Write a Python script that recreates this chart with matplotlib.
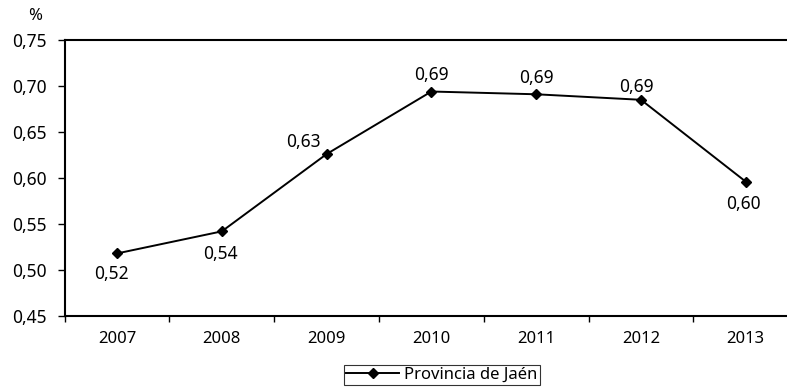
import matplotlib.pyplot as plt
from matplotlib.ticker import FixedLocator, FuncFormatter

years = ["2007", "2008", "2009", "2010", "2011", "2012", "2013"]
values = [0.518, 0.542, 0.626, 0.694, 0.691, 0.685, 0.596]
labels = ["0,52", "0,54", "0,63", "0,69", "0,69", "0,69", "0,60"]
series_name = "Provincia de Jaén"

plt.rcParams['font.family'] = ['Noto Sans', 'DejaVu Sans']
plt.rcParams['font.size'] = 12

fig = plt.figure(figsize=(7.87, 3.87), dpi=100)
ax = fig.add_axes([64.6 / 787, 71 / 387, 733.6 / 787, 276 / 387])

x = list(range(len(years)))
line, = ax.plot(x, values, color='black', lw=1.4, marker='D', markersize=5.5,
                label=series_name, clip_on=False)

# data labels: offsets in points (dx, dy)
offsets = [(-4, -15), (-1, -16), (-17, 9), (0, 12), (0, 12), (-3, 9), (-2, -16)]
for xi, v, t, (dx, dy) in zip(x, values, labels, offsets):
    ax.annotate(t, (xi, v), xytext=(dx, dy), textcoords='offset points',
                ha='center', va='center', fontsize=12.5)

ax.set_xlim(-0.5, 6.5)
ax.set_ylim(0.45, 0.75)
ax.set_yticks([0.45, 0.50, 0.55, 0.60, 0.65, 0.70, 0.75])
ax.yaxis.set_major_formatter(FuncFormatter(lambda v, p: f"{v:.2f}".replace('.', ',')))
ax.set_xticks(x)
ax.set_xticklabels(years)
ax.xaxis.set_minor_locator(FixedLocator([i - 0.5 for i in range(len(years) + 1)]))
ax.tick_params(axis='x', which='major', length=0, pad=11, labelsize=12)
ax.tick_params(axis='x', which='minor', length=4, width=1, direction='out')
ax.tick_params(axis='y', length=5, width=1, direction='out', pad=8, labelsize=12.5)

for s in ['left', 'top', 'bottom']:
    ax.spines[s].set_linewidth(1.5)
ax.spines['right'].set_visible(False)

fig.text(35 / 787, 1 - 16 / 387, "%", ha='center', va='center', fontsize=12)

leg = fig.legend(handles=[line], loc='center', bbox_to_anchor=(442 / 787, 1 - 375 / 387),
                 frameon=True, fancybox=False, edgecolor='black', fontsize=12,
                 handlelength=3.2, borderpad=0.1, handletextpad=0.3)
leg.get_frame().set_linewidth(0.8)

fig.savefig("out.png", dpi=100)
